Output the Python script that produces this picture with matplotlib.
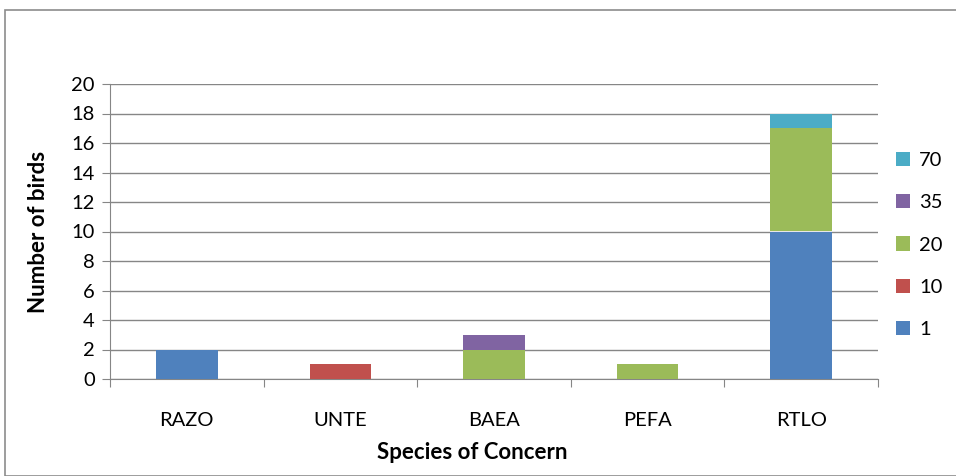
import numpy as np
import matplotlib.pyplot as plt
from matplotlib.patches import Rectangle

plt.rcParams['font.family'] = ['Lato', 'DejaVu Sans']

species = ['RAZO', 'UNTE', 'BAEA', 'PEFA', 'RTLO']
series_names = ['1', '10', '20', '35', '70']
s1 = [2, 0, 0, 0, 10]
s10 = [0, 1, 0, 0, 0]
s20 = [0, 0, 2, 1, 7]
s35 = [0, 0, 1, 0, 0]
s70 = [0, 0, 0, 0, 1]
colors = ['#4F81BD', '#C0504D', '#9BBB59', '#8064A2', '#4BACC6']

fig = plt.figure(figsize=(9.56, 4.76), dpi=100)
ax = fig.add_axes([110/956, 1-379/476, 768/956, 295/476])

# outer chart frame
fig.patches.append(Rectangle((5/956, 0), 1.0, 1-10/476, transform=fig.transFigure,
                             fill=False, edgecolor='#8c8c8c', linewidth=1.2))

x = np.arange(len(species))
bottom = np.zeros(len(species))
handles = []
for vals, c, name in zip([s1, s10, s20, s35, s70], colors, series_names):
    b = ax.bar(x, vals, 0.4, bottom=bottom, color=c, label=name, zorder=3)
    handles.append(b)
    bottom += np.array(vals)

ax.set_xlim(-0.5, 4.5)
ax.set_ylim(0, 20)
ax.set_yticks(range(0, 21, 2))
ax.yaxis.grid(True, color='#868686', linewidth=1)
ax.set_axisbelow(True)
ax.set_xticks(np.arange(-0.5, 5, 1))
ax.set_xticklabels([])
ax.set_xticks(x, minor=True)
ax.set_xticklabels(species, minor=True, fontsize=14.5)
ax.tick_params(axis='x', which='minor', length=0, pad=24)
ax.tick_params(axis='x', which='major', length=6, color='#868686', direction='out')
ax.tick_params(axis='y', length=6, color='#868686', labelsize=14.5, pad=5)
for s in ['top', 'right']:
    ax.spines[s].set_visible(False)
for s in ['left', 'bottom']:
    ax.spines[s].set_color('#868686')

ax.set_ylabel('Number of birds', fontsize=16, fontweight='bold', labelpad=16)
ax.set_xlabel('Species of Concern', fontsize=16, fontweight='bold', labelpad=9)
ax.xaxis.label.set_x((472 - 110) / 768)

leg = fig.legend(handles[::-1], series_names[::-1], loc='center left',
                 bbox_to_anchor=(896/956, 1-245/476), frameon=False, fontsize=14.5,
                 handlelength=0.7, handleheight=0.7, labelspacing=1.25,
                 handletextpad=0.45, borderaxespad=0, borderpad=0)

fig.savefig('out.png', dpi=100)
